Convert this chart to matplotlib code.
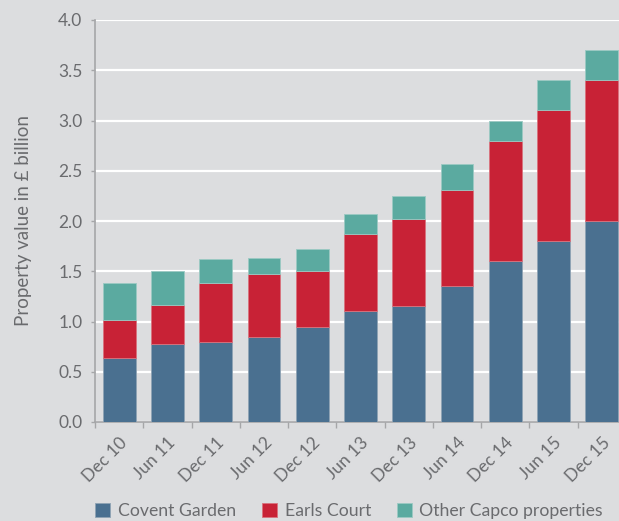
import matplotlib.pyplot as plt
import numpy as np

# Valor de propiedades por periodo (£ bn)
periods = ["Dec 10", "Jun 11", "Dec 11", "Jun 12", "Dec 12", "Jun 13",
           "Dec 13", "Jun 14", "Dec 14", "Jun 15", "Dec 15"]
covent_garden = [0.64, 0.78, 0.80, 0.85, 0.95, 1.10, 1.15, 1.35, 1.60, 1.80, 2.00]
earls_court = [0.37, 0.38, 0.58, 0.62, 0.55, 0.77, 0.87, 0.96, 1.20, 1.30, 1.40]
other_capco = [0.37, 0.34, 0.24, 0.16, 0.22, 0.20, 0.23, 0.26, 0.20, 0.30, 0.30]

bg = "#dcdddf"
txt = "#6a6b6e"
c_cg = "#4a7090"
c_ec = "#c82236"
c_ot = "#5baaa0"

plt.rcParams["font.family"] = ["Lato", "DejaVu Sans"]

fig = plt.figure(figsize=(6.19, 5.21), dpi=100, facecolor=bg)
ax = fig.add_axes([95 / 619, 1 - 422 / 521, 531 / 619, 402 / 521])
ax.set_facecolor(bg)

x = np.arange(len(periods))
w = 0.68
bottom2 = np.array(covent_garden)
bottom3 = bottom2 + np.array(earls_court)
ax.bar(x, covent_garden, w, color=c_cg, edgecolor="#8fa3b4", linewidth=0.6,
       label="Covent Garden", zorder=3)
ax.bar(x, earls_court, w, bottom=bottom2, color=c_ec, edgecolor="#d9727d",
       linewidth=0.6, label="Earls Court", zorder=3)
ax.bar(x, other_capco, w, bottom=bottom3, color=c_ot, edgecolor="#9bc9c3",
       linewidth=0.6, label="Other Capco properties", zorder=3)

ax.set_xlim(-0.5, len(periods) - 0.5)
ax.set_ylim(0, 4.0)
ax.set_yticks(np.arange(0, 4.01, 0.5))
ax.set_yticklabels([f"{v:.1f}" for v in np.arange(0, 4.01, 0.5)])
ax.yaxis.grid(True, color="white", linewidth=1.6, zorder=0)
ax.set_axisbelow(True)

ax.set_xticks(x)
ax.set_xticklabels(periods, rotation=45, ha="right", rotation_mode="anchor")
ax.set_xticks(np.arange(-0.5, len(periods), 1), minor=True)
ax.tick_params(axis="x", which="major", length=0, pad=9)
ax.tick_params(axis="x", which="minor", length=4, color="#a5a6a8", width=1)
ax.tick_params(axis="y", length=3, color="#a5a6a8", width=1, pad=6)
ax.tick_params(labelsize=12.5, labelcolor=txt)

for s in ["top", "right"]:
    ax.spines[s].set_visible(False)
for s in ["left", "bottom"]:
    ax.spines[s].set_color("#a5a6a8")
    ax.spines[s].set_linewidth(1.2)

ax.set_ylabel("Property value in £ billion", fontsize=13.5, color=txt, labelpad=19)

leg = fig.legend(loc="lower left", bbox_to_anchor=(95 / 619, 2 / 521), ncol=3,
                 frameon=False, fontsize=12.7, labelcolor=txt, handlelength=0.85,
                 handleheight=0.85, handletextpad=0.45, columnspacing=1.45,
                 borderpad=0, borderaxespad=0)

fig.savefig("out.png", dpi=100, facecolor=bg)
